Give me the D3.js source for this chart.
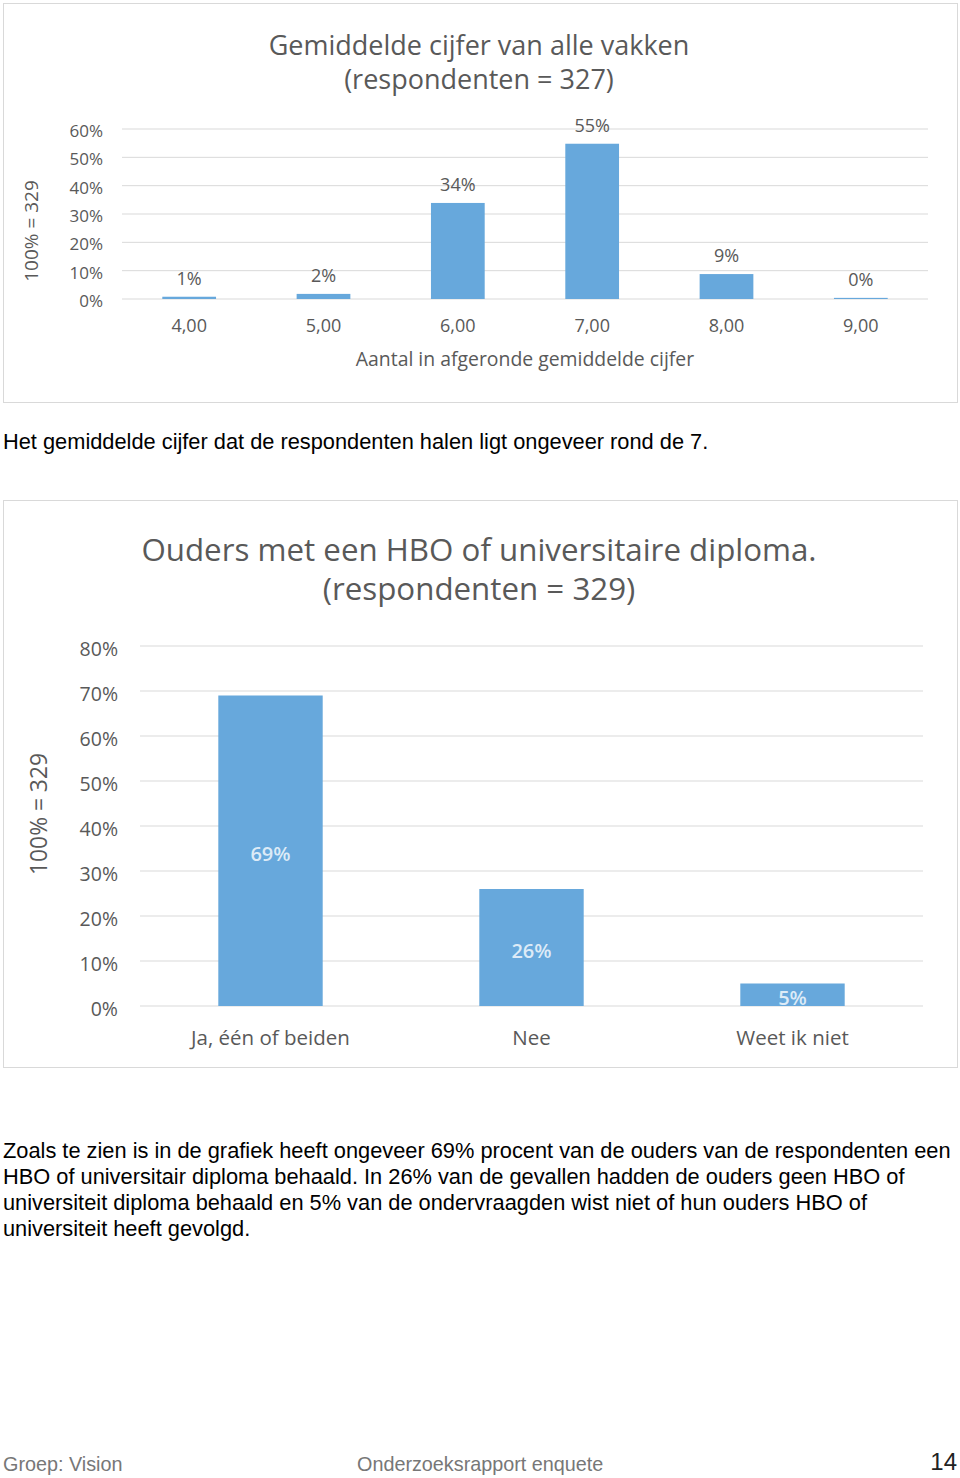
<!DOCTYPE html>
<html>
<head>
<meta charset="utf-8">
<script src="https://cdn.jsdelivr.net/npm/d3@7"></script>
<style>
  body { margin: 0; background: #fff; }
  svg { display: block; }
  .chart text { font-family: 'Open Sans', sans-serif; fill: #595959; }
  .page text { font-family: 'Liberation Sans', Arial, sans-serif; }
</style>
</head>
<body>
<svg id="page" width="960" height="1478"></svg>
<script>
// chart 1 data
const grades = ['4,00', '5,00', '6,00', '7,00', '8,00', '9,00']
const gradeShare = [0.008, 0.018, 0.339, 0.548, 0.088, 0.004]
const gradeTicks = [0, 0.1, 0.2, 0.3, 0.4, 0.5, 0.6]

// chart 2 data
const answers = ['Ja, één of beiden', 'Nee', 'Weet ik niet']
const answerShare = [0.69, 0.26, 0.05]
const answerTicks = [0, 0.1, 0.2, 0.3, 0.4, 0.5, 0.6, 0.7, 0.8]

const para1 = ['Het gemiddelde cijfer dat de respondenten halen ligt ongeveer rond de 7.']
const para2 = [
  'Zoals te zien is in de grafiek heeft ongeveer 69% procent van de ouders van de respondenten een',
  'HBO of universitair diploma behaald. In 26% van de gevallen hadden de ouders geen HBO of',
  'universiteit diploma behaald en 5% van de ondervraagden wist niet of hun ouders HBO of',
  'universiteit heeft gevolgd.'
]

const pct = d3.format('.0%')
const barColor = '#67a8dc'
const gridColor = '#d9d9d9'

const svg = d3.select('#page')

// ---------- chart 1 ----------
const c1 = svg.append('g').attr('class', 'chart')

c1.append('rect')
  .attr('x', 3.5).attr('y', 3.5)
  .attr('width', 954).attr('height', 399)
  .attr('fill', '#fff').attr('stroke', gridColor)

c1.append('text')
  .attr('x', 479).attr('y', 55)
  .attr('text-anchor', 'middle')
  .attr('font-size', 27)
  .text('Gemiddelde cijfer van alle vakken')
c1.append('text')
  .attr('x', 479).attr('y', 89)
  .attr('text-anchor', 'middle')
  .attr('font-size', 27)
  .text('(respondenten = 327)')

const x1 = d3.scaleBand()
  .domain(grades)
  .range([122, 928])
  .paddingInner(0.6)
  .paddingOuter(0.3)
const y1 = d3.scaleLinear()
  .domain([0, 0.6])
  .range([299, 129])

c1.append('g')
  .selectAll('line')
  .data(gradeTicks)
  .enter().append('line')
  .attr('x1', 122).attr('x2', 928)
  .attr('y1', d => y1(d)).attr('y2', d => y1(d))
  .attr('stroke', gridColor)

c1.append('g')
  .selectAll('text')
  .data(gradeTicks)
  .enter().append('text')
  .attr('x', 103)
  .attr('y', d => y1(d) + 8)
  .attr('text-anchor', 'end')
  .attr('font-size', 17)
  .text(d => pct(d))

c1.append('g')
  .selectAll('rect')
  .data(gradeShare)
  .enter().append('rect')
  .attr('x', (d, i) => x1(grades[i]))
  .attr('width', x1.bandwidth())
  .attr('y', d => y1(d))
  .attr('height', d => y1(0) - y1(d))
  .attr('fill', barColor)

c1.append('g')
  .selectAll('text')
  .data(gradeShare)
  .enter().append('text')
  .attr('x', (d, i) => x1(grades[i]) + x1.bandwidth() / 2)
  .attr('y', d => y1(d) - 12)
  .attr('text-anchor', 'middle')
  .attr('font-size', 18)
  .text(d => pct(d))

c1.append('g')
  .selectAll('text')
  .data(grades)
  .enter().append('text')
  .attr('x', d => x1(d) + x1.bandwidth() / 2)
  .attr('y', 332)
  .attr('text-anchor', 'middle')
  .attr('font-size', 18)
  .text(d => d)

c1.append('text')
  .attr('x', 525).attr('y', 366)
  .attr('text-anchor', 'middle')
  .attr('font-size', 19.4)
  .text('Aantal in afgeronde gemiddelde cijfer')

c1.append('text')
  .attr('transform', 'translate(38,231) rotate(-90)')
  .attr('text-anchor', 'middle')
  .attr('font-size', 19)
  .text('100% = 329')

// ---------- chart 2 ----------
const c2 = svg.append('g').attr('class', 'chart')

c2.append('rect')
  .attr('x', 3.5).attr('y', 500.5)
  .attr('width', 954).attr('height', 567)
  .attr('fill', '#fff').attr('stroke', gridColor)

c2.append('text')
  .attr('x', 479).attr('y', 561)
  .attr('text-anchor', 'middle')
  .attr('font-size', 31.3)
  .text('Ouders met een HBO of universitaire diploma.')
c2.append('text')
  .attr('x', 479).attr('y', 600)
  .attr('text-anchor', 'middle')
  .attr('font-size', 31.3)
  .text('(respondenten = 329)')

const x2 = d3.scaleBand()
  .domain(answers)
  .range([140, 923])
  .paddingInner(0.6)
  .paddingOuter(0.3)
const y2 = d3.scaleLinear()
  .domain([0, 0.8])
  .range([1006, 646])

c2.append('g')
  .selectAll('line')
  .data(answerTicks)
  .enter().append('line')
  .attr('x1', 140).attr('x2', 923)
  .attr('y1', d => y2(d)).attr('y2', d => y2(d))
  .attr('stroke', gridColor)

c2.append('g')
  .selectAll('text')
  .data(answerTicks)
  .enter().append('text')
  .attr('x', 118)
  .attr('y', d => y2(d) + 10)
  .attr('text-anchor', 'end')
  .attr('font-size', 19.5)
  .text(d => pct(d))

c2.append('g')
  .selectAll('rect')
  .data(answerShare)
  .enter().append('rect')
  .attr('x', (d, i) => x2(answers[i]))
  .attr('width', x2.bandwidth())
  .attr('y', d => y2(d))
  .attr('height', d => y2(0) - y2(d))
  .attr('fill', barColor)

c2.append('g')
  .selectAll('text')
  .data(answerShare)
  .enter().append('text')
  .attr('x', (d, i) => x2(answers[i]) + x2.bandwidth() / 2)
  .attr('y', d => (y2(d) + y2(0)) / 2 + 10)
  .attr('text-anchor', 'middle')
  .attr('font-size', 20)
  .attr('font-weight', 600)
  .style('fill', '#ddebf7')
  .text(d => pct(d))

c2.append('g')
  .selectAll('text')
  .data(answers)
  .enter().append('text')
  .attr('x', d => x2(d) + x2.bandwidth() / 2)
  .attr('y', 1045)
  .attr('text-anchor', 'middle')
  .attr('font-size', 20.5)
  .text(d => d)

c2.append('text')
  .attr('transform', 'translate(47,814) rotate(-90)')
  .attr('text-anchor', 'middle')
  .attr('font-size', 22.8)
  .text('100% = 329')

// ---------- page text ----------
const pageText = svg.append('g').attr('class', 'page')

pageText.append('g')
  .selectAll('text')
  .data(para1)
  .enter().append('text')
  .attr('x', 3)
  .attr('y', (d, i) => 449 + i * 26)
  .attr('font-size', 21.8)
  .attr('fill', '#000')
  .text(d => d)

pageText.append('g')
  .selectAll('text')
  .data(para2)
  .enter().append('text')
  .attr('x', 3)
  .attr('y', (d, i) => 1158 + i * 26)
  .attr('font-size', 21.8)
  .attr('fill', '#000')
  .text(d => d)

pageText.append('text')
  .attr('x', 3).attr('y', 1471)
  .attr('font-size', 19.8)
  .attr('fill', '#777')
  .text('Groep: Vision')
pageText.append('text')
  .attr('x', 357).attr('y', 1471)
  .attr('font-size', 19.8)
  .attr('fill', '#777')
  .text('Onderzoeksrapport enquete')
pageText.append('text')
  .attr('x', 957).attr('y', 1470)
  .attr('text-anchor', 'end')
  .attr('font-size', 24)
  .attr('fill', '#222')
  .text('14')
</script>
</body>
</html>
